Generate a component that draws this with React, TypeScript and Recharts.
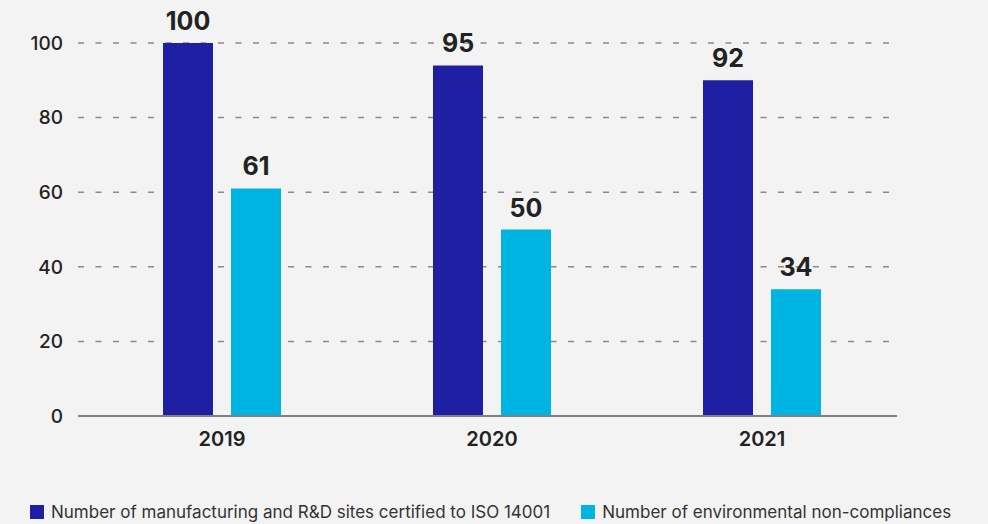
import React from 'react';
import { BarChart, Bar, XAxis, YAxis, CartesianGrid, LabelList, Legend } from 'recharts';

const years = ['2019', '2020', '2021'];
const certifiedSites = [100, 94, 90];
const certifiedLabels = [100, 95, 92];
const nonCompliances = [61, 50, 34];
const nonComplianceLabels = [61, 50, 34];
const yTicks = [0, 20, 40, 60, 80, 100];

const seriesNames = [
  'Number of manufacturing and R&D sites certified to ISO 14001',
  'Number of environmental non-compliances',
];
const colors = ['#1f1fa4', '#00b4e1'];

const data = years.map((y, i) => ({
  year: y,
  sites: certifiedSites[i],
  sitesLabel: certifiedLabels[i],
  nc: nonCompliances[i],
  ncLabel: nonComplianceLabels[i],
}));

const FONT = 'Inter, "Noto Sans", sans-serif';

const LegendContent = () => (
  <div style={{ display: 'flex', alignItems: 'center', paddingLeft: 30, fontFamily: FONT, fontSize: 17, color: '#333', height: 24 }}>
    {seriesNames.map((n, i) => (
      <div key={n} style={{ display: 'flex', alignItems: 'center', marginRight: 31 }}>
        <div style={{ width: 14, height: 14, background: colors[i], marginRight: 7 }} />
        <span style={{ whiteSpace: 'nowrap' }}>{n}</span>
      </div>
    ))}
  </div>
);

export default function App() {
  return (
    <div style={{ position: 'absolute', left: 0, top: 0, width: 988, height: 524, background: '#f3f3f3' }}>
      <BarChart
        width={988}
        height={524}
        data={data}
        margin={{ top: 43, right: 91, bottom: 78, left: 0 }}
        barSize={50}
        barGap={18}
      >
        <CartesianGrid vertical={false} stroke="#8a8a8a" strokeWidth={1.5} strokeDasharray="6 11.5" />
        <XAxis
          dataKey="year"
          height={30}
          padding={{ left: 9, right: 0 }}
          tickLine={false}
          tickSize={0}
          tickMargin={16}
          axisLine={{ stroke: '#808080', strokeWidth: 2 }}
          tick={{ fill: '#222', fontSize: 20, fontWeight: 600, fontFamily: FONT }}
        />
        <YAxis
          width={78}
          domain={[0, 100]}
          ticks={yTicks}
          axisLine={false}
          tickLine={false}
          tickSize={0}
          tickMargin={15}
          tick={{ fill: '#222', fontSize: 19, fontWeight: 500, fontFamily: FONT }}
        />
        <Legend
          layout="horizontal"
          verticalAlign="middle"
          align="center"
          content={<LegendContent />}
          wrapperStyle={{ top: 500, left: 0, width: 988, height: 24 }}
        />
        <Bar dataKey="sites" name={seriesNames[0]} fill={colors[0]} isAnimationActive={false}>
          <LabelList dataKey="sitesLabel" position="top" offset={13} fill="#222" fontSize={25} fontWeight={700} fontFamily={FONT} />
        </Bar>
        <Bar dataKey="nc" name={seriesNames[1]} fill={colors[1]} isAnimationActive={false}>
          <LabelList dataKey="ncLabel" position="top" offset={13} fill="#222" fontSize={25} fontWeight={700} fontFamily={FONT} />
        </Bar>
      </BarChart>
    </div>
  );
}
